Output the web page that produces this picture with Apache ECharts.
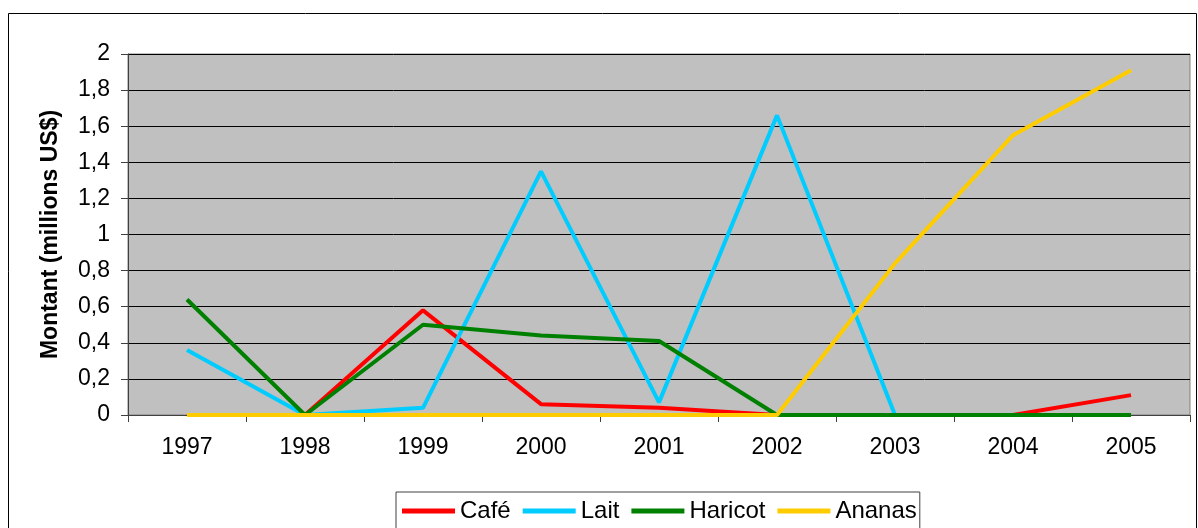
<!DOCTYPE html>
<html>
<head>
<meta charset="utf-8">
<script src="https://cdn.jsdelivr.net/npm/echarts@6/dist/echarts.min.js"></script>
<style>
  html, body { margin: 0; padding: 0; background: #ffffff; }
  #chart { width: 1198px; height: 528px; }
</style>
</head>
<body>
<div id="chart"></div>
<script>
// Années
const years = ['1997', '1998', '1999', '2000', '2001', '2002', '2003', '2004', '2005'];

// Montants par produit (millions US$)
const cafe    = [0,    0, 0.58, 0.06, 0.04, 0, 0,    0,    0.11];
const lait    = [0.36, 0, 0.04, 1.35, 0.07, 1.66, 0, 0,    0];
const haricot = [0.64, 0, 0.50, 0.44, 0.41, 0, 0,    0,    0];
const ananas  = [0,    0, 0,    0,    0,    0, 0.84, 1.55, 1.91];

const seriesNames = ['Café', 'Lait', 'Haricot', 'Ananas'];
const seriesColors = ['#FF0000', '#00CCFF', '#008000', '#FFCC00'];
const seriesValues = [cafe, lait, haricot, ananas];

const fontFamily = '"Liberation Sans", Arial, sans-serif';
const fontSize = 23;

const chart = echarts.init(document.getElementById('chart'), null, { renderer: 'canvas' });

chart.setOption({
  animation: false,
  backgroundColor: '#ffffff',
  textStyle: { fontFamily: fontFamily, color: '#000000' },
  // cadre extérieur du graphique
  graphic: [{
    type: 'rect',
    shape: { x: 8.5, y: 13.5, width: 1188, height: 540 },
    style: { fill: 'none', stroke: '#000000', lineWidth: 1 },
    silent: true,
    z: -1
  }],
  grid: {
    left: 128,
    top: 54,
    right: 8,
    bottom: 113,
    show: true,
    backgroundColor: '#C0C0C0',
    borderColor: '#808080',
    borderWidth: 1
  },
  legend: {
    top: 492,
    left: 396,
    padding: [7, 3, 30, 6],
    itemGap: 12,
    itemWidth: 53,
    itemHeight: 5,
    icon: 'rect',
    borderColor: '#404040',
    borderWidth: 1,
    textStyle: { fontFamily: fontFamily, fontSize: 24, color: '#000000' },
    data: seriesNames
  },
  xAxis: {
    type: 'category',
    data: years,
    boundaryGap: true,
    axisLine: { show: true, lineStyle: { color: '#404040', width: 1 } },
    axisTick: { show: true, length: 7, lineStyle: { color: '#404040' } },
    axisLabel: { fontSize: fontSize, color: '#000000', margin: 21, fontFamily: fontFamily },
    splitLine: { show: false }
  },
  yAxis: {
    type: 'value',
    min: 0,
    max: 2,
    interval: 0.2,
    name: 'Montant (millions US$)',
    nameLocation: 'middle',
    nameRotate: 90,
    nameGap: 66,
    nameTextStyle: { fontSize: fontSize, fontWeight: 'bold', color: '#000000', fontFamily: fontFamily },
    axisLine: { show: true, lineStyle: { color: '#404040', width: 1 } },
    axisTick: { show: true, length: 7, lineStyle: { color: '#404040' } },
    axisLabel: {
      fontSize: fontSize,
      color: '#000000',
      margin: 18,
      fontFamily: fontFamily,
      formatter: function (v) { return String(Math.round(v * 10) / 10).replace('.', ','); }
    },
    splitLine: { show: true, lineStyle: { color: '#000000', width: 1 } }
  },
  series: seriesNames.map(function (name, i) {
    return {
      name: name,
      type: 'line',
      data: seriesValues[i],
      symbol: 'none',
      itemStyle: { color: seriesColors[i] },
      lineStyle: { color: seriesColors[i], width: 4 },
      z: 2 + i
    };
  })
});
</script>
</body>
</html>
